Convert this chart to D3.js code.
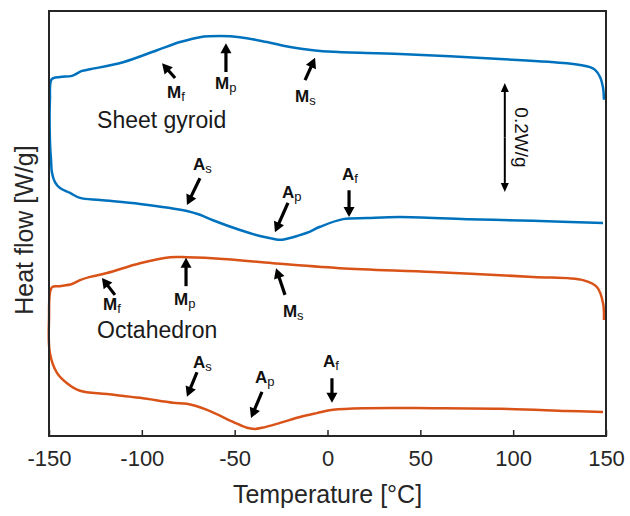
<!DOCTYPE html>
<html>
<head>
<meta charset="utf-8">
<script src="https://cdn.jsdelivr.net/npm/d3@7"></script>
<style>
  body { margin: 0; background: #fff; }
  text { font-family: "Liberation Sans", Arial, sans-serif; }
</style>
</head>
<body>
<svg id="chart"></svg>
<script>
// DSC curves, temperature in °C and heat flow in W/g (offset, arbitrary zero)
// path runs: cooling branch from 150 down to -150, then heating branch back up to 150
const gyroidT = [148.9, 148.4, 146.8, 144.1, 141.4, 129.0, 92.9, 39.0, 3.0, -7.8, -20.2, -32.6, -47.1, -57.9,
    -68.7, -79.4, -91.8, -110.1, -127.9, -132.2, -137.6, -144.1, -148.5,
    -149.5, -149.5, -148.9, -148.4, -146.8, -144.1, -138.7, -133.3, -122.5, -101.0, -75.7, -68.7, -61.7,
    -47.1, -36.4, -29.4, -25.6, -21.8, -16.4, -11.0, -4.0, 8.4, 21.3, 39.0, 75.1, 110.7, 148.4];
const gyroidQ = [0.617, 0.639, 0.659, 0.672, 0.677, 0.684, 0.692, 0.701, 0.705, 0.708, 0.714, 0.723, 0.732, 0.734,
    0.732, 0.723, 0.708, 0.686, 0.673, 0.670, 0.661, 0.659, 0.655,
    0.617, 0.543, 0.506, 0.483, 0.466, 0.455, 0.446, 0.437, 0.433, 0.426, 0.413, 0.406, 0.396,
    0.378, 0.367, 0.362, 0.360, 0.362, 0.367, 0.373, 0.384, 0.398, 0.400, 0.402, 0.398, 0.395, 0.391];

const octaT = [148.9, 148.4, 145.2, 137.6, 110.7, 56.8, 6.7, -29.4, -56.3, -75.7, -84.8, -101.0, -118.8, -127.9,
    -133.3, -137.6, -144.1, -148.4,
    -150.0, -149.5, -145.7, -140.3, -133.3, -118.8, -101.0, -83.2, -75.7, -64.9, -50.9, -43.4, -39.0, -35.3,
    -25.6, -14.8, -5.7, 3.0, 21.3, 56.8, 92.9, 129.0, 148.4];
const octaQ = [0.213, 0.244, 0.273, 0.286, 0.292, 0.301, 0.308, 0.317, 0.325, 0.328, 0.328, 0.317, 0.299, 0.292,
    0.286, 0.279, 0.275, 0.273,
    0.213, 0.152, 0.116, 0.097, 0.083, 0.077, 0.070, 0.061, 0.059, 0.048, 0.026, 0.015, 0.013, 0.015,
    0.024, 0.035, 0.042, 0.048, 0.051, 0.051, 0.050, 0.046, 0.044];

const xTicks = [-150, -100, -50, 0, 50, 100, 150];

// transformation markers: label, subscript, label pos, arrow tail, arrow head (°C, W/g)
const gyroidMarks = [
    ['M', 'f', -86.4, 0.620, -82.1, 0.657, -89.1, 0.684],
    ['M', 'p', -60.6, 0.637, -54.7, 0.668, -54.7, 0.721],
    ['M', 's', -17.5, 0.613, -12.1, 0.653, -6.7, 0.694],
    ['A', 's', -72.4, 0.488, -68.7, 0.473, -75.7, 0.424],
    ['A', 'p', -24.5, 0.437, -21.3, 0.428, -28.3, 0.374],
    ['A', 'f', 7.8, 0.470, 11.6, 0.451, 11.6, 0.402]
];
const octaMarks = [
    ['M', 'f', -120.9, 0.231, -114.5, 0.259, -121.5, 0.290],
    ['M', 'p', -82.7, 0.240, -76.2, 0.275, -76.2, 0.327],
    ['M', 's', -24.0, 0.218, -22.9, 0.259, -27.7, 0.308],
    ['A', 's', -72.4, 0.125, -70.3, 0.117, -75.7, 0.072],
    ['A', 'p', -39.0, 0.097, -35.3, 0.081, -41.2, 0.033],
    ['A', 'f', -2.4, 0.127, 2.4, 0.106, 2.4, 0.061]
];

let width = 630, height = 516;
let margin = { top: 11, bottom: 80, left: 49, right: 24 };

let svg = d3.select('#chart')
    .attr('width', width)
    .attr('height', height);

let xScale = d3.scaleLinear()
    .domain([-150, 150])
    .range([margin.left, width - margin.right]);

let yScale = d3.scaleLinear()
    .domain([0, 0.78])
    .range([height - margin.bottom, margin.top]);

const blue = '#0072BD', orange = '#D95319';

// curves
const line = d3.line()
    .x(d => xScale(d[0]))
    .y(d => yScale(d[1]))
    .curve(d3.curveCatmullRom.alpha(0.5));

svg.append('path')
    .datum(d3.zip(gyroidT, gyroidQ))
    .attr('d', line)
    .attr('fill', 'none')
    .attr('stroke', blue)
    .attr('stroke-width', 2.5);

svg.append('path')
    .datum(d3.zip(octaT, octaQ))
    .attr('d', line)
    .attr('fill', 'none')
    .attr('stroke', orange)
    .attr('stroke-width', 2.5);

// frame and axis
svg.append('g')
    .attr('transform', `translate(0, ${height - margin.bottom})`)
    .call(d3.axisBottom(xScale).tickValues(xTicks).tickFormat(d => String(d))
        .tickSizeInner(-6).tickSizeOuter(0).tickPadding(14))
    .call(g => g.select('.domain').remove())
    .call(g => g.selectAll('line').attr('stroke', '#262626').attr('stroke-width', 1.5))
    .call(g => g.selectAll('text').attr('fill', '#262626').style('font-size', '22px'));

svg.append('rect')
    .attr('x', margin.left)
    .attr('y', margin.top)
    .attr('width', width - margin.left - margin.right)
    .attr('height', height - margin.top - margin.bottom)
    .attr('fill', 'none')
    .attr('stroke', '#262626')
    .attr('stroke-width', 2);

svg.append('text')
    .attr('x', xScale(0))
    .attr('y', 503)
    .attr('text-anchor', 'middle')
    .attr('fill', '#262626')
    .style('font-size', '25px')
    .text('Temperature [°C]');

svg.append('text')
    .attr('transform', `translate(33, ${yScale(0.378)}) rotate(-90)`)
    .attr('text-anchor', 'middle')
    .attr('fill', '#262626')
    .style('font-size', '25px')
    .text('Heat flow [W/g]');

// arrows
function arrow(x1, y1, x2, y2, w, hl, hw) {
    const dx = x2 - x1, dy = y2 - y1, len = Math.hypot(dx, dy);
    const ux = dx / len, uy = dy / len;
    const bx = x2 - ux * hl, by = y2 - uy * hl;
    svg.append('line')
        .attr('x1', x1).attr('y1', y1).attr('x2', bx + ux).attr('y2', by + uy)
        .attr('stroke', '#000').attr('stroke-width', w);
    svg.append('polygon')
        .attr('points', [[x2, y2], [bx - uy * hw, by + ux * hw], [bx + uy * hw, by - ux * hw]].map(p => p.join(',')).join(' '))
        .attr('fill', '#000');
}

function marks(list) {
    list.forEach(m => {
        const t = svg.append('text')
            .attr('x', xScale(m[2]))
            .attr('y', yScale(m[3]))
            .attr('fill', '#111');
        t.append('tspan').style('font-size', '17px').style('font-weight', 'bold').text(m[0]);
        t.append('tspan').attr('dy', 3).style('font-size', '13px').text(m[1]);
        arrow(xScale(m[4]), yScale(m[5]), xScale(m[6]), yScale(m[7]), 3.2, 10, 5.5);
    });
}
marks(gyroidMarks);
marks(octaMarks);

// sample names
svg.append('text')
    .attr('x', xScale(-124.1))
    .attr('y', yScale(0.565))
    .attr('fill', '#1a1a1a')
    .style('font-size', '23px')
    .text('Sheet gyroid');

svg.append('text')
    .attr('x', xScale(-124.1))
    .attr('y', yScale(0.180))
    .attr('fill', '#1a1a1a')
    .style('font-size', '23px')
    .text('Octahedron');

// 0.2 W/g scale bar
const barT = 95.5, barLo = 0.448, barHi = barLo + 0.2;
const bm = (yScale(barLo) + yScale(barHi)) / 2;
arrow(xScale(barT), bm, xScale(barT), yScale(barHi), 2, 9, 4);
arrow(xScale(barT), bm, xScale(barT), yScale(barLo), 2, 9, 4);

svg.append('text')
    .attr('transform', `translate(${xScale(barT) + 10}, ${yScale((barLo + barHi) / 2)}) rotate(90)`)
    .attr('text-anchor', 'middle')
    .attr('fill', '#111')
    .style('font-size', '19px')
    .text('0.2W/g');
</script>
</body>
</html>
